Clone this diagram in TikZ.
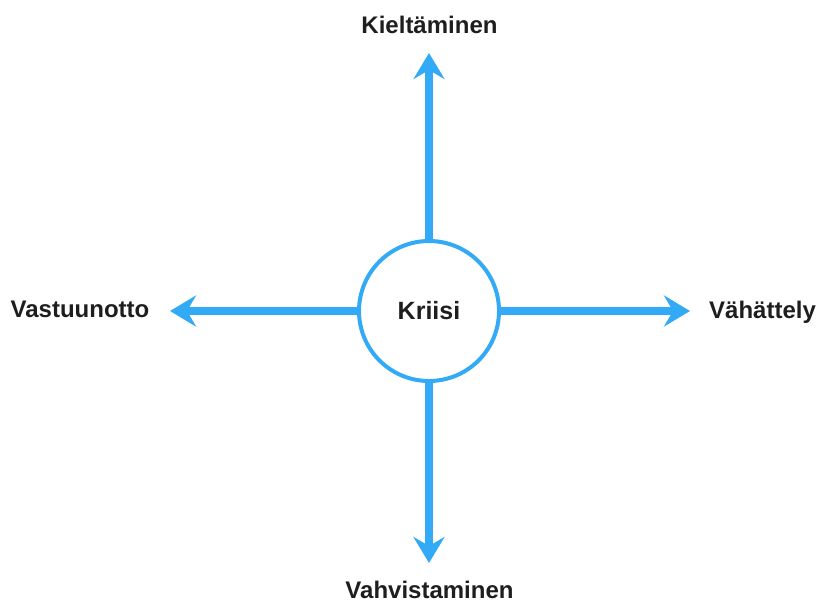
\documentclass[tikz,border=0pt]{standalone}
\usepackage{fontspec}
\setmainfont{Liberation Sans}
\usetikzlibrary{arrows.meta}
\definecolor{arrblue}{RGB}{51,170,245}
\definecolor{txt}{RGB}{30,30,30}
\tikzset{
  conn/.style={draw=arrblue, line width=8pt, -{Stealth[length=26pt, width=31pt, inset=9pt]}},
  lbl/.style={font=\fontsize{24}{26}\selectfont\bfseries, text=txt, inner sep=0pt, anchor=base},
  hub/.style={circle, draw=arrblue, line width=4pt, fill=white, minimum size=140pt, inner sep=0pt, font=\fontsize{25}{27}\selectfont\bfseries, text=txt}
}
\begin{document}
\begin{tikzpicture}[x=1pt,y=-1pt]
\useasboundingbox (0,0) rectangle (818,603);
\coordinate (tup) at (429,53);
\coordinate (tdown) at (429,563);
\coordinate (tleft) at (170,311);
\coordinate (tright) at (690,311);
\node[hub] (c) at (429,311) {Kriisi};
\draw[conn] (c.north) -- (tup);
\draw[conn] (c.south) -- (tdown);
\draw[conn] (c.west) -- (tleft);
\draw[conn] (c.east) -- (tright);
\node[lbl] (k) at (429.5,33) {Kieltäminen};
\node[lbl] (vs) at (80,317) {Vastuunotto};
\node[lbl] (vh) at (762.5,318) {Vähättely};
\node[lbl] (vv) at (429.5,598.5) {Vahvistaminen};
\end{tikzpicture}
\end{document}
